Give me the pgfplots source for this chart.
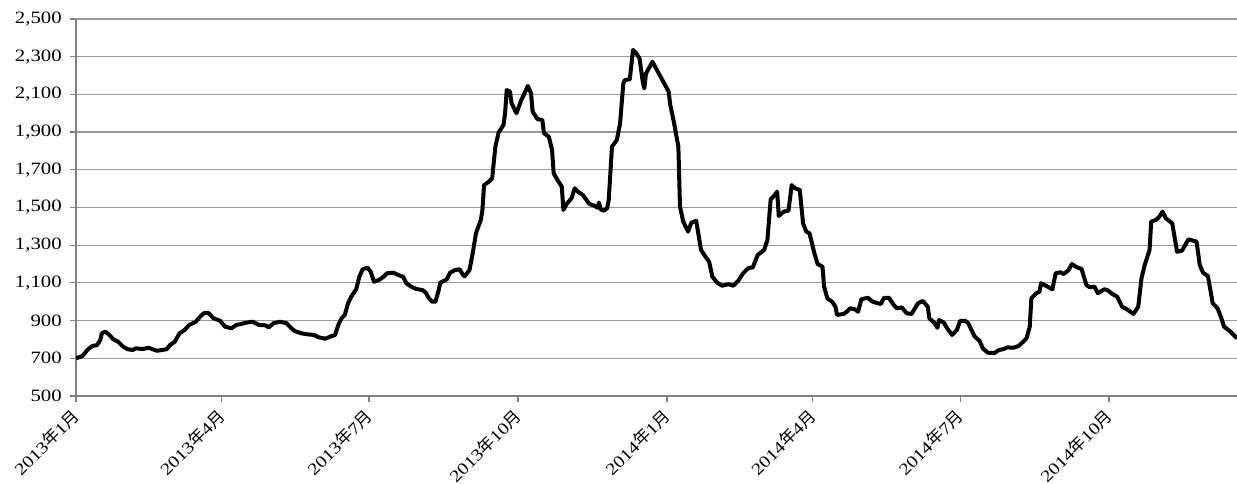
\documentclass[border=0pt]{standalone}
\usepackage{fontspec}
\setmainfont{Liberation Serif}[FakeStretch=1.2]
\newfontfamily\cjk{Noto Sans CJK JP}
\usepackage{pgfplots}
\usepackage{pgfplotstable}
\pgfplotsset{compat=1.18}

% day (0 = 2013-01-01), value
\pgfplotstableread{
d v
0 700
4 712
7 744
10 765
13 770
15 797
16 833
18 841
20 829
23 801
26 788
29 762
32 748
35 744
37 753
41 749
45 756
47 749
50 740
53 744
56 748
58 770
61 788
64 833
67 850
70 877
74 894
77 924
79 939
82 939
85 912
89 899
92 868
96 859
99 877
102 882
105 889
109 894
113 877
117 875
119 864
122 886
126 894
130 886
132 868
135 845
139 833
143 827
147 824
150 811
154 804
157 815
160 824
162 877
164 912
166 930
168 992
170 1027
173 1066
175 1133
177 1172
180 1181
182 1159
184 1106
187 1115
190 1133
192 1151
196 1154
199 1142
202 1133
204 1098
207 1080
210 1068
214 1062
216 1048
218 1018
220 1000
222 1000
224 1062
225 1101
229 1119
231 1154
234 1168
237 1172
239 1142
240 1135
243 1168
245 1257
247 1363
250 1434
251 1487
252 1619
255 1637
257 1655
259 1823
261 1898
264 1938
265 2000
266 2123
268 2115
269 2053
272 2000
275 2070
277 2106
279 2145
281 2106
282 2008
285 1969
288 1964
289 1894
292 1876
294 1805
295 1681
298 1637
300 1611
301 1487
303 1519
306 1549
308 1602
310 1584
313 1566
315 1543
317 1519
320 1510
322 1499
323 1526
324 1490
326 1483
328 1496
329 1540
331 1823
334 1858
336 1946
338 2158
339 2176
342 2180
344 2336
346 2318
348 2291
350 2167
351 2132
352 2211
356 2273
361 2194
366 2115
367 2044
369 1964
372 1823
373 1505
375 1425
378 1372
380 1419
383 1430
386 1275
389 1236
391 1212
393 1133
396 1101
399 1085
403 1093
406 1085
409 1112
412 1151
415 1177
418 1183
421 1248
425 1275
427 1328
429 1543
431 1561
433 1584
434 1455
437 1478
440 1483
442 1619
444 1602
447 1593
449 1416
451 1372
453 1363
456 1257
458 1200
461 1186
462 1080
464 1018
467 1000
469 974
470 930
474 935
476 947
478 965
481 960
483 947
485 1013
489 1021
492 1000
497 988
499 1021
502 1021
505 983
507 965
510 970
513 939
516 935
520 992
523 1004
526 974
527 912
530 889
532 862
533 903
536 889
538 859
541 824
544 850
546 898
549 899
551 886
553 850
555 815
558 793
560 753
563 730
567 727
570 744
573 749
575 758
579 756
582 765
585 788
587 806
589 868
590 1018
593 1045
595 1053
596 1098
600 1080
603 1066
605 1151
608 1156
610 1147
613 1168
615 1200
618 1183
621 1174
624 1089
626 1077
629 1080
631 1045
635 1066
637 1062
640 1041
643 1027
646 974
649 960
653 935
656 974
658 1124
660 1195
663 1275
664 1425
667 1434
669 1451
671 1478
673 1443
677 1416
680 1265
683 1271
687 1331
692 1319
694 1195
696 1154
699 1137
702 992
705 965
707 921
709 868
713 841
717 806
}\prices

\begin{document}
\begin{tikzpicture}
\begin{axis}[
  at={(0,0)}, anchor=south west,
  scale only axis, width=870.75pt, height=282.75pt,
  xmin=0, xmax=717, ymin=500, ymax=2500,
  axis x line*=bottom, axis y line*=left,
  axis line style={black!50, line width=0.9pt},
  ytick={500,700,...,2500},
  xtick={0,90,181,273,365,455,546,638},
  xticklabels={2013{\cjk 年}1{\cjk 月},2013{\cjk 年}4{\cjk 月},2013{\cjk 年}7{\cjk 月},2013{\cjk 年}10{\cjk 月},
               2014{\cjk 年}1{\cjk 月},2014{\cjk 年}4{\cjk 月},2014{\cjk 年}7{\cjk 月},2014{\cjk 年}10{\cjk 月}},
  ymajorgrids, grid style={black!40, line width=0.9pt},
  tick align=outside, major tick length=4.5pt,
  tick style={black!50, line width=0.9pt},
  /pgf/number format/.cd, 1000 sep={,}, assume math mode=true,
  /pgfplots/.cd,
  tick label style={font=\fontsize{13}{13}\selectfont},
  yticklabel style={anchor=east, inner sep=0pt},
  yticklabel shift=6pt,
  xticklabel style={rotate=45, anchor=east, inner sep=0pt, font=\fontsize{12.5}{12.5}\selectfont},
  xticklabel shift=8pt,
]
\addplot[black, line width=3pt, line join=round] table[x=d, y=v] {\prices};
\end{axis}
\pgfresetboundingbox
\path[use as bounding box] (-57pt,-66pt) rectangle (870.75pt,297pt);
\end{tikzpicture}
\end{document}
